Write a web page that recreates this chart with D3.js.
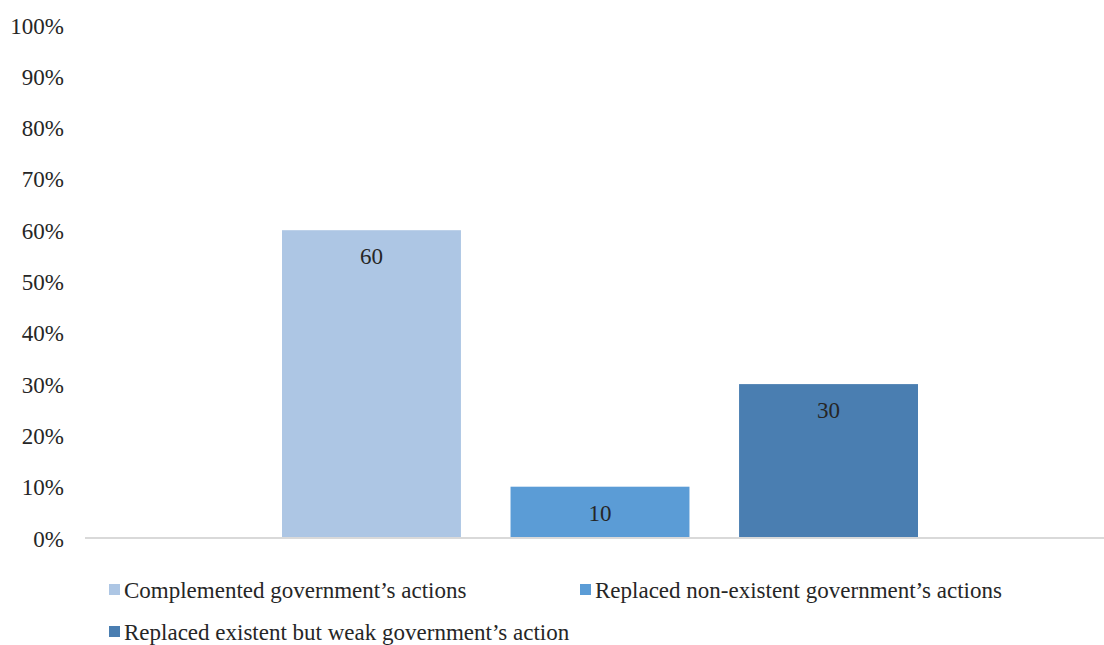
<!DOCTYPE html>
<html>
<head>
<meta charset='utf-8'>
<title>Bar chart</title>
<script src='https://d3js.org/d3.v7.min.js'></script>
<style>
  body { margin: 0; background: #fff; }
  svg text { font-family: "Liberation Serif", "Times New Roman", Times, serif; fill: #262626; }
</style>
</head>
<body>
<div id='chart'></div>
<script>
// dados
const series = ['Complemented government\u2019s actions',
                'Replaced non-existent government\u2019s actions',
                'Replaced existent but weak government\u2019s action'];
const values = [60, 10, 30];
const colors = ['#adc6e4', '#5b9cd6', '#4a7eb1'];
const yTicks = [0, 10, 20, 30, 40, 50, 60, 70, 80, 90, 100];

const W = 1104, H = 645;
const FS = '23px';
const svg = d3.select('#chart').append('svg')
    .attr('width', W).attr('height', H);

// escalas
const yScale = d3.scaleLinear().domain([0, 100]).range([538, 25]);
const xScale = d3.scaleBand().domain(series).range([282, 918])
    .paddingInner(0.217).paddingOuter(0);

// eixo Y (só rótulos)
const yAxis = d3.axisLeft(yScale).tickValues(yTicks)
    .tickFormat(d => d + '%').tickSize(0).tickPadding(0);
const gy = svg.append('g')
   .attr('transform', 'translate(64,0)')
   .call(yAxis);
gy.select('.domain').remove();
gy.attr('font-family', null).attr('font-size', null);
gy.selectAll('text')
   .style('font-size', FS)
   .attr('fill', '#262626')
   .attr('dy', '0.35em');

// barras
svg.selectAll('rect.bar')
   .data(values)
   .enter()
   .append('rect')
   .attr('class', 'bar')
   .attr('x', (d, i) => xScale(series[i]))
   .attr('y', d => yScale(d))
   .attr('width', xScale.bandwidth())
   .attr('height', d => yScale(0) - yScale(d))
   .attr('fill', (d, i) => colors[i]);

// eixo X
svg.append('line')
   .attr('x1', 85).attr('x2', 1104)
   .attr('y1', yScale(0)).attr('y2', yScale(0))
   .attr('stroke', '#d9d9d9').attr('stroke-width', 2);

// rótulos
svg.selectAll('text.lbl')
   .data(values)
   .enter()
   .append('text')
   .attr('class', 'lbl')
   .attr('x', (d, i) => xScale(series[i]) + xScale.bandwidth() / 2)
   .attr('y', d => yScale(d) + 26)
   .attr('dy', '0.35em')
   .attr('text-anchor', 'middle')
   .style('font-size', FS)
   .text(d => d);

// legenda
const legendPos = [[109, 590], [580, 590], [109, 632]];
const leg = svg.selectAll('g.leg')
   .data(series)
   .enter()
   .append('g')
   .attr('class', 'leg')
   .attr('transform', (d, i) => `translate(${legendPos[i][0]},${legendPos[i][1]})`);
leg.append('rect')
   .attr('x', 0).attr('y', -6)
   .attr('width', 11).attr('height', 11)
   .attr('fill', (d, i) => colors[i]);
leg.append('text')
   .attr('x', 15)
   .attr('dy', '0.35em')
   .style('font-size', FS)
   .text(d => d);
</script>
</body>
</html>
